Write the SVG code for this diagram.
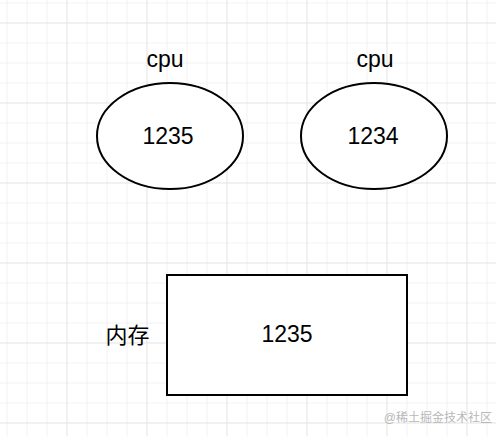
<svg xmlns="http://www.w3.org/2000/svg" width="496" height="436" viewBox="0 0 496 436">
<style>
.minor{stroke:#f2f2f2;stroke-width:1;fill:none}
.major{stroke:#e3e3e3;stroke-width:1;fill:none}
.shape{fill:#fff;stroke:#000;stroke-width:2}
.t{font-family:"Liberation Sans",Arial,"Noto Sans CJK SC",sans-serif;font-size:22px;fill:#000;text-anchor:middle}
.n{font-size:23px}
.wm{font-family:"Liberation Sans","Noto Sans CJK SC",sans-serif;font-size:12px;fill:#b8b8b8;text-anchor:end}
</style>
<rect width="496" height="436" fill="#fff"/>
<g id="grid">
<path class="minor" d="M7 0V436M27 0V436M47 0V436M87 0V436M107 0V436M127 0V436M167 0V436M187 0V436M207 0V436M247 0V436M267 0V436M287 0V436M327 0V436M347 0V436M367 0V436M407 0V436M427 0V436M447 0V436M487 0V436M0 3H496M0 43H496M0 63H496M0 83H496M0 123H496M0 143H496M0 163H496M0 203H496M0 223H496M0 243H496M0 283H496M0 303H496M0 323H496M0 363H496M0 383H496M0 403H496"/>
<path class="major" d="M67 0V436M147 0V436M227 0V436M307 0V436M387 0V436M467 0V436M0 23H496M0 103H496M0 183H496M0 263H496M0 343H496M0 423H496"/>
</g>
<g id="connectors"></g>
<g id="cpu-label-1"><text class="t n" x="165" y="67">cpu</text></g>
<g id="cpu-label-2"><text class="t n" x="375" y="67">cpu</text></g>
<g id="cpu1">
<ellipse class="shape" cx="170" cy="136" rx="73" ry="53"/>
<text class="t n" x="168" y="144">1235</text>
</g>
<g id="cpu2">
<ellipse class="shape" cx="374" cy="136" rx="73" ry="53"/>
<text class="t n" x="373" y="144">1234</text>
</g>
<g id="memory-label"><text class="t" x="127.5" y="343">内存</text></g>
<g id="memory">
<rect class="shape" x="167" y="275" width="240" height="120"/>
<text class="t n" x="287" y="342">1235</text>
</g>
<text class="wm" x="492" y="422">@稀土掘金技术社区</text>
</svg>
